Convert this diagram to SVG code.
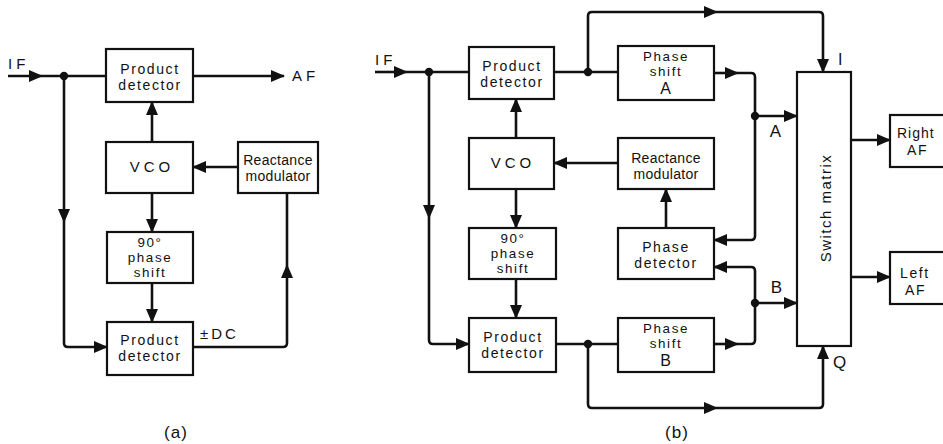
<svg xmlns="http://www.w3.org/2000/svg" width="943" height="444" viewBox="0 0 943 444">
<defs>
<marker id="ah" markerUnits="userSpaceOnUse" markerWidth="14" markerHeight="12" viewBox="0 0 14 12" refX="13" refY="6" orient="auto">
<path d="M0,0 L14,6 L0,12 z" fill="#111"/>
</marker>
<style>
.box{fill:#fff;stroke:#111;stroke-width:2.2}
.ln{fill:none;stroke:#111;stroke-width:2.6;stroke-linejoin:round}
.ar{marker-end:url(#ah)}
.dot{fill:#111}
text{font-family:"Liberation Sans",Arial,sans-serif;font-size:15px;fill:#111;letter-spacing:1px}
.c{text-anchor:middle}
.t2{font-size:14px;letter-spacing:1.6px}
.t3{font-size:13.4px;letter-spacing:1.6px}
.rm{font-size:14px;letter-spacing:0.3px}
.big{font-size:16px}
</style>
</defs>
<rect x="0" y="0" width="943" height="444" fill="#fff"/>

<!-- connectors -->
<g id="connectors">
<!-- (a) -->
<path class="ln ar" d="M8,76 L42,76"/>
<path class="ln" d="M42,76 L106,76"/>
<path class="ln ar" d="M193,76 L284,76"/>
<path class="ln ar" d="M152,142 L152,102"/>
<path class="ln ar" d="M238,167 L193,167"/>
<path class="ln ar" d="M152,193 L152,232"/>
<path class="ln ar" d="M152,283 L152,322"/>
<path class="ln ar" d="M64,76 L64,222"/>
<path class="ln ar" d="M64,222 L64,343 Q64,347 68,347 L107,347"/>
<path class="ln ar" d="M193,347 L283,347 Q287,347 287,343 L287,265"/>
<path class="ln" d="M287,265 L287,193"/>
<circle class="dot" cx="64" cy="76" r="4.2"/>
<!-- (b) -->
<path class="ln ar" d="M375,72 L407,72"/>
<path class="ln" d="M407,72 L469,72"/>
<path class="ln" d="M554,72 L618,72"/>
<path class="ln ar" d="M588,72 L588,16 Q588,12 592,12 L717,12"/>
<path class="ln ar" d="M717,12 L819,12 Q823,12 823,16 L823,72"/>
<path class="ln ar" d="M714,73 L738,73"/>
<path class="ln ar" d="M738,73 L751,73 Q755,73 755,77 L755,236 Q755,240 751,240 L714,240"/>
<path class="ln ar" d="M755,116 L797,116"/>
<path class="ln ar" d="M714,344 L738,344"/>
<path class="ln ar" d="M738,344 L751,344 Q755,344 755,340 L755,271 Q755,267 751,267 L714,267"/>
<path class="ln ar" d="M755,303 L797,303"/>
<path class="ln ar" d="M666,228 L666,189"/>
<path class="ln ar" d="M618,163 L554,163"/>
<path class="ln ar" d="M516,138 L516,99"/>
<path class="ln ar" d="M516,189 L516,228"/>
<path class="ln ar" d="M516,279 L516,318"/>
<path class="ln ar" d="M429,72 L429,218"/>
<path class="ln ar" d="M429,218 L429,340 Q429,344 433,344 L469,344"/>
<path class="ln" d="M556,344 L618,344"/>
<path class="ln ar" d="M588,344 L588,404 Q588,408 592,408 L717,408"/>
<path class="ln ar" d="M717,408 L819,408 Q823,408 823,404 L823,346"/>
<path class="ln ar" d="M851,140 L890,140"/>
<path class="ln ar" d="M851,277 L890,277"/>
<circle class="dot" cx="429" cy="72" r="4.2"/>
<circle class="dot" cx="588" cy="72" r="4.2"/>
<circle class="dot" cx="755" cy="116" r="4.2"/>
<circle class="dot" cx="755" cy="303" r="4.2"/>
<circle class="dot" cx="588" cy="344" r="4.2"/>
</g>

<!-- (a) nodes -->
<g id="a_pd1"><rect class="box" x="106" y="49" width="87" height="53"/>
<text class="c t2" x="150" y="74">Product</text><text class="c t2" x="150" y="90">detector</text></g>
<g id="a_vco"><rect class="box" x="106" y="142" width="87" height="51"/>
<text class="c" x="152" y="172" style="letter-spacing:4px">VCO</text></g>
<g id="a_rm"><rect class="box" x="238" y="142" width="80" height="51"/>
<text class="c rm" x="278" y="165">Reactance</text><text class="c rm" x="278" y="181">modulator</text></g>
<g id="a_ps"><rect class="box" x="107" y="232" width="86" height="51"/>
<text class="c t3" x="150" y="247">90°</text><text class="c t3" x="150" y="262">phase</text><text class="c t3" x="150" y="277">shift</text></g>
<g id="a_pd2"><rect class="box" x="107" y="322" width="86" height="53"/>
<text class="c t2" x="150" y="345">Product</text><text class="c t2" x="150" y="361">detector</text></g>
<g id="a_labels">
<text x="8" y="69" style="letter-spacing:4px">IF</text>
<text x="292" y="81" style="letter-spacing:4px">AF</text>
<text x="200" y="339" style="letter-spacing:3px">±DC</text>
<text class="c" x="176" y="438" style="font-size:17px">(a)</text>
</g>

<!-- (b) nodes -->
<g id="b_pd1"><rect class="box" x="469" y="47" width="85" height="52"/>
<text class="c t2" x="512" y="71">Product</text><text class="c t2" x="512" y="87">detector</text></g>
<g id="b_psA"><rect class="box" x="618" y="46" width="96" height="54"/>
<text class="c t3" x="666" y="61">Phase</text><text class="c t3" x="666" y="76">shift</text><text class="c big" x="666" y="94">A</text></g>
<g id="b_vco"><rect class="box" x="469" y="138" width="85" height="51"/>
<text class="c" x="513" y="168" style="letter-spacing:4px">VCO</text></g>
<g id="b_rm"><rect class="box" x="618" y="138" width="96" height="51"/>
<text class="c rm" x="666" y="163">Reactance</text><text class="c rm" x="666" y="179">modulator</text></g>
<g id="b_ps90"><rect class="box" x="469" y="228" width="87" height="51"/>
<text class="c t3" x="513" y="243">90°</text><text class="c t3" x="513" y="258">phase</text><text class="c t3" x="513" y="273">shift</text></g>
<g id="b_pdet"><rect class="box" x="618" y="228" width="96" height="51"/>
<text class="c t2" x="666" y="252">Phase</text><text class="c t2" x="666" y="268">detector</text></g>
<g id="b_pd2"><rect class="box" x="469" y="318" width="87" height="54"/>
<text class="c t2" x="513" y="342">Product</text><text class="c t2" x="513" y="358">detector</text></g>
<g id="b_psB"><rect class="box" x="618" y="318" width="96" height="54"/>
<text class="c t3" x="666" y="333">Phase</text><text class="c t3" x="666" y="348">shift</text><text class="c big" x="666" y="366">B</text></g>
<g id="b_sm"><rect class="box" x="797" y="72" width="54" height="274"/>
<text class="c" transform="translate(831,208) rotate(-90)" style="letter-spacing:1.5px">Switch matrix</text></g>
<g id="b_right"><rect class="box" x="890" y="115" width="62" height="52"/>
<text class="t2" x="897" y="138" style="letter-spacing:1px">Right</text><text class="t2" x="907" y="155">AF</text></g>
<g id="b_left"><rect class="box" x="890" y="252" width="62" height="52"/>
<text class="t2" x="900" y="278">Left</text><text class="t2" x="905" y="295">AF</text></g>
<g id="b_labels">
<text x="375" y="65" style="letter-spacing:4px">IF</text>
<text class="c" x="776" y="137" style="font-size:17px">A</text>
<text class="c" x="777" y="293" style="font-size:17px">B</text>
<text x="838" y="65" style="font-size:16px">I</text>
<text x="833" y="368" style="font-size:17px">Q</text>
<text class="c" x="677" y="438" style="font-size:17px">(b)</text>
</g>
</svg>
